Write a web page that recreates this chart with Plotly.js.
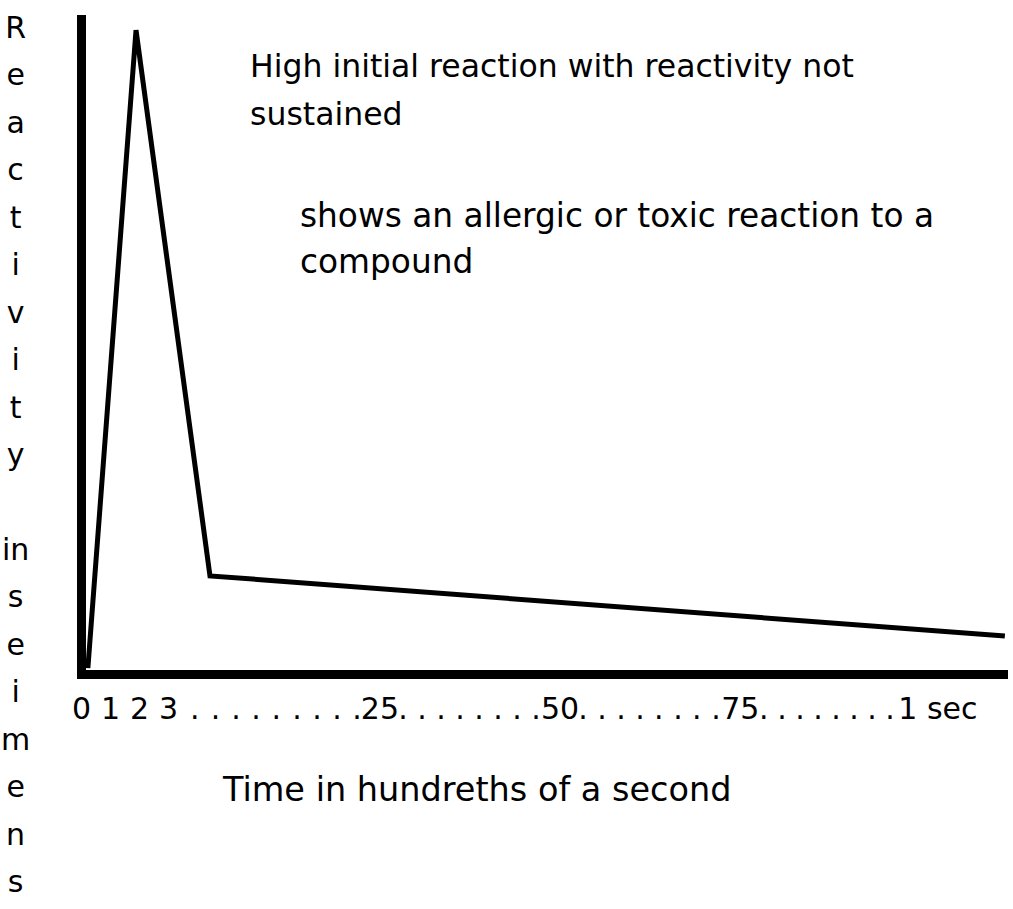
<!DOCTYPE html>
<html>
<head>
<meta charset="utf-8">
<script src="https://cdn.plot.ly/plotly-3.0.1.min.js"></script>
<style>html,body{margin:0;padding:0;background:#fff;}</style>
</head>
<body>
<div id="chart" style="width:1013px;height:909px"></div>
<script>
// ---- data (schematic time units, reactivity in arbitrary units) ----
const time = [0.22, 1.88, 4.43, 31.84];
const reactivity = [1.0, 100.6, 15.4, 6.0];

// ---- tick labels along the time axis ----
const numberTickVals = [0, 1, 2, 3, 10.29, 16.50, 22.72, 29.53];
const numberTickText = ["0", "1", "2", "3", "25", "50", "75", "1 sec"];
const dotTickVals = [3.91, 4.62, 5.33, 6.02, 6.72, 7.43, 8.12, 8.81, 9.50,
                     11.09, 11.74, 12.40, 13.05, 13.71, 14.36, 15.02, 15.67,
                     17.29, 17.95, 18.60, 19.26, 19.91, 20.57, 21.22, 21.88,
                     23.53, 24.16, 24.78, 25.40, 26.02, 26.64, 27.26, 27.88];

// ---- texts ----
const note1 = ["High initial reaction with reactivity not", "sustained"];
const note2 = ["shows an allergic or toxic reaction to a", "compound"];
const xTitle = "Time in hundreths of a second";
const yTitleLetters = ["R","e","a","c","t","i","v","i","t","y","","in","s","e","i","m","e","n","s"];

const FONT = "DejaVu Sans";
const tickvals = numberTickVals.concat(dotTickVals);
const ticktext = numberTickText.concat(dotTickVals.map(() => "."));

const trace = {
  x: time, y: reactivity, type: "scatter", mode: "lines",
  line: {color: "#000", width: 5}, hoverinfo: "skip"
};

function ann(text, x, y, size, xanchor) {
  return {text: text, x: x, y: y, xref: "paper", yref: "paper",
          xanchor: xanchor || "left", yanchor: "middle", showarrow: false,
          font: {family: FONT, size: size, color: "#000"}};
}

const yTitleText = yTitleLetters.map(l => '<span style="font-size:30px">' + l + '</span>').join("<br>");

const layout = {
  width: 1013, height: 909, autosize: false,
  margin: {l: 77, r: 5, t: 15, b: 230, pad: 0},
  paper_bgcolor: "#fff", plot_bgcolor: "#fff",
  showlegend: false,
  font: {family: FONT, color: "#000", size: 30},
  xaxis: {
    range: [-0.155, 31.948], showgrid: false, showline: false, ticks: "",
    zeroline: true, zerolinecolor: "#000", zerolinewidth: 9,
    tickmode: "array", tickvals: tickvals, ticktext: ticktext,
    tickfont: {family: FONT, size: 30, color: "#000"},
    ticklabelstandoff: 9, fixedrange: true
  },
  yaxis: {
    range: [-0.70, 102.97], showgrid: false, showline: false, ticks: "",
    showticklabels: false,
    zeroline: true, zerolinecolor: "#000", zerolinewidth: 9, fixedrange: true
  },
  annotations: [
    ann(note1[0], (248 - 77) / 931, (679 - 66) / 664, 31.5),
    ann(note1[1], (248 - 77) / 931, (679 - 114) / 664, 31.5),
    ann(note2[0], (298 - 77) / 931, (679 - 216) / 664, 32.8),
    ann(note2[1], (298 - 77) / 931, (679 - 262) / 664, 32.8),
    ann(xTitle, (220 - 77) / 931, (679 - 789) / 664, 33.5),
    {text: yTitleText, x: (15 - 77) / 931, y: (679 - 8) / 664, xref: "paper", yref: "paper",
     xanchor: "center", yanchor: "top", showarrow: false, align: "center",
     font: {family: FONT, size: 36.5, color: "#000"}}
  ]
};

Plotly.newPlot("chart", [trace], layout, {displayModeBar: false, staticPlot: true});
</script>
</body>
</html>
